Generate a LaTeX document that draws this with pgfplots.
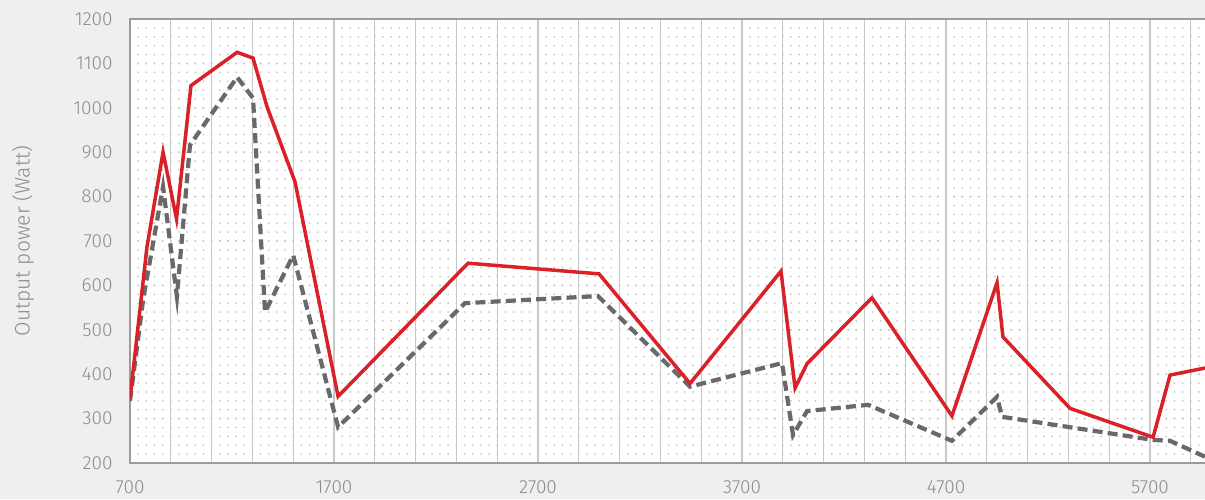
\documentclass[border=0pt]{standalone}
\usepackage{fontspec}
\setmainfont{Fira Sans}[UprightFont={* Light}]
\usepackage{pgfplots}
\pgfplotsset{compat=1.18}
\definecolor{bgc}{RGB}{239,239,239}
\definecolor{axc}{RGB}{155,155,155}
\definecolor{txc}{RGB}{140,140,140}
\definecolor{gridc}{RGB}{200,200,200}
\definecolor{dotc}{RGB}{200,200,200}
\definecolor{redc}{RGB}{218,32,40}
\definecolor{grayc}{RGB}{105,105,108}
\begin{document}
\begin{tikzpicture}
\fill[bgc] (-65pt,-18pt) rectangle (537.5pt,231.5pt);
\path[use as bounding box] (-65pt,-18pt) rectangle (537.5pt,231.5pt);
\begin{axis}[
  at={(0,0)}, anchor=south west,
  scale only axis, width=539.6pt, height=222pt,
  xmin=700, xmax=5990, ymin=200, ymax=1200,
  axis background/.style={fill=white},
  axis line style={draw=axc, line width=1.3pt},
  xtick={700,1700,2700,3700,4700,5700},
  minor xtick={900,1100,1300,1500,1900,2100,2300,2500,2900,3100,3300,3500,3900,4100,4300,4500,4900,5100,5300,5500,5900},
  ytick={200,300,...,1200},
  minor ytick={220,240,...,1180},
  xmajorgrids, xminorgrids, ymajorgrids, yminorgrids,
  major x grid style={draw=gridc, line width=0.55pt},
  minor x grid style={draw=gridc, line width=0.55pt},
  major y grid style={draw=dotc, line width=1pt, line cap=round, dash pattern=on 0pt off 4.08pt},
  minor y grid style={draw=dotc, line width=1pt, line cap=round, dash pattern=on 0pt off 4.08pt},
  major tick length=0pt, minor tick length=0pt,
  tick style={draw=none},
  /pgf/number format/assume math mode=true,
  /pgf/number format/1000 sep={},
  ticklabel style={font=\fontsize{9.5}{11}\selectfont, text=txc},
  xticklabel style={anchor=north, inner sep=0pt, yshift=-8.5pt},
  yticklabel style={anchor=east, inner sep=0pt, xshift=-8.5pt},
  ylabel={Output power (Watt)},
  every axis y label/.style={at={(axis description cs:0,0.5)}, rotate=90, anchor=center, yshift=53.5pt, font=\fontsize{10.5}{12}\selectfont, text=txc},
  clip=true,
]
\addplot[draw=grayc, line width=2.1pt, dash pattern=on 5pt off 2.6pt] coordinates {
(700,340) (765,570) (862,822) (930,575) (994,916) (1225,1069) (1303,1022)
(1362,540) (1500,668) (1720,281) (2342,560) (2994,576) (3445,372) (3896,425)
(3950,263) (4019,317) (4318,331) (4729,250) (4950,349) (4974,304) (5715,252)
(5798,250) (5970,214)
};
\addplot[draw=redc, line width=1.75pt] coordinates {
(700,345) (783,686) (862,900) (928,750) (999,1050) (1225,1125) (1303,1112)
(1372,1002) (1509,833) (1720,350) (2357,650) (2999,626) (3445,379) (3891,632)
(3960,369) (4019,424) (4337,572) (4729,306) (4950,606) (4979,484) (5308,323)
(5715,258) (5798,398) (5970,414)
};
\end{axis}
\end{tikzpicture}
\end{document}
